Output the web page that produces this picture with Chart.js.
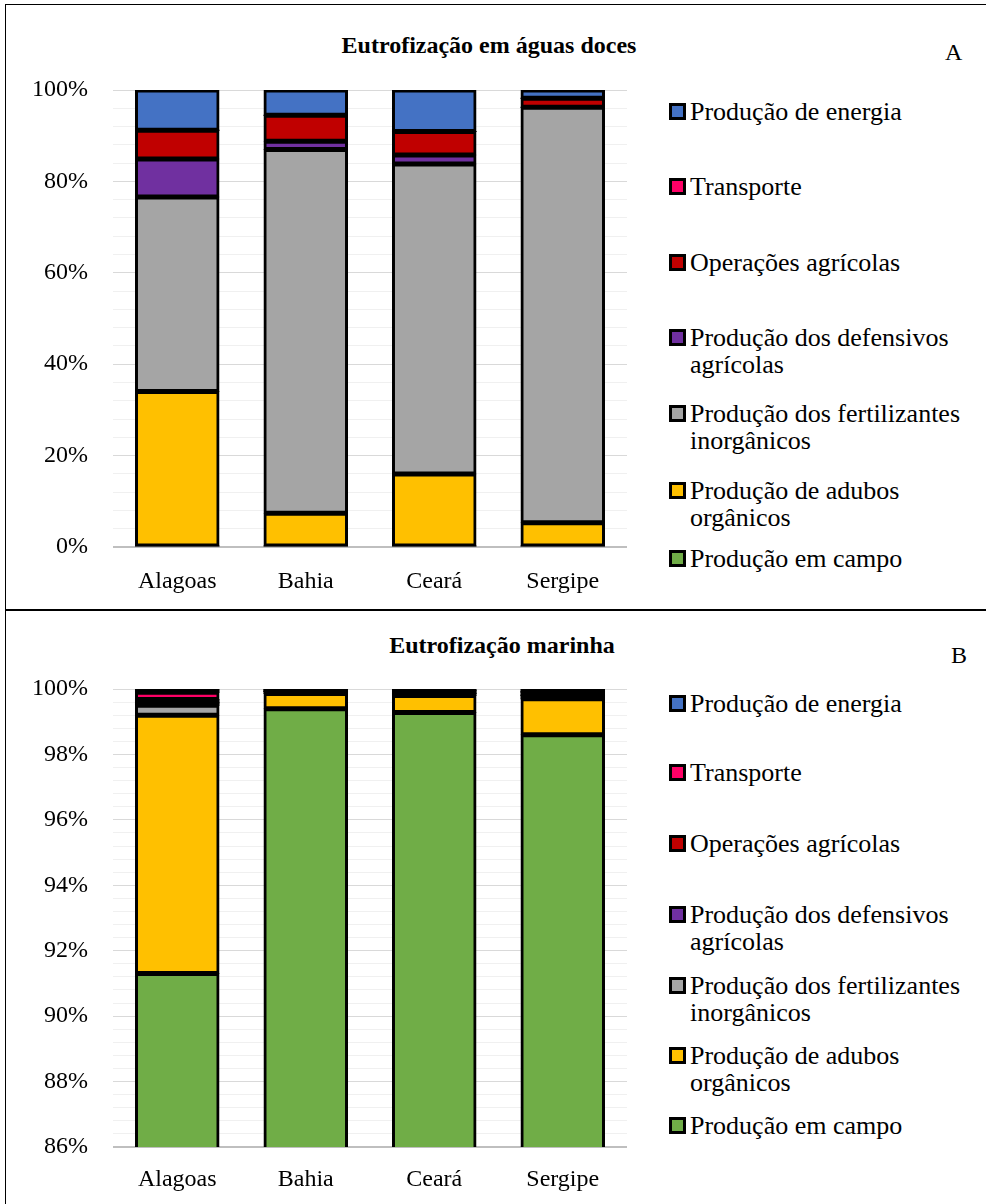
<!DOCTYPE html>
<html lang="pt">
<head>
<meta charset="utf-8">
<script src="https://cdn.jsdelivr.net/npm/chart.js@4.4.1/dist/chart.umd.min.js"></script>
<style>
  body { margin: 0; background: #fff; }
  #page { position: relative; width: 986px; height: 1204px; overflow: hidden; font-family: "Liberation Serif", "Times New Roman", serif; color: #000; }
  .frame { position: absolute; left: 5px; top: 4px; width: 1100px; height: 1300px; border-left: 1px solid #000; border-top: 1px solid #000; }
  .divider { position: absolute; left: 5px; top: 609px; width: 1100px; border-top: 2px solid #000; }
  .panel { position: absolute; left: 0; width: 986px; }
  .chartBox { position: absolute; left: 0; top: 0; width: 640px; }
  .title { position: absolute; font-weight: bold; font-size: 24px; line-height: 28px; transform: translateX(-50%); white-space: nowrap; }
  .letter { position: absolute; font-size: 24px; line-height: 28px; }
  .item { position: absolute; left: 669px; width: 317px; display: flex; align-items: flex-start; font-size: 26px; line-height: 27px; }
  .swatch { flex: none; width: 11px; height: 11px; border: 3px solid #000; margin: 5px 4px 0 0; }
</style>
</head>
<body>
<div id="page">
  <div class="frame"></div>
  <div class="divider"></div>

  <div class="panel" id="panelA" style="top:0;height:608px">
    <div class="title" style="left:489px;top:31px">Eutrofização em águas doces</div>
    <div class="letter" style="left:945px;top:38px">A</div>
    <div class="chartBox" style="height:608px"><canvas id="chartA"></canvas></div>
  </div>

  <div class="panel" id="panelB" style="top:608px;height:596px">
    <div class="title" style="left:502px;top:23px">Eutrofização marinha</div>
    <div class="letter" style="left:951px;top:33px">B</div>
    <div class="chartBox" style="height:596px"><canvas id="chartB"></canvas></div>
  </div>
</div>

<script>
// categories and series (bottom of the stack first)
const states = ['Alagoas', 'Bahia', 'Ceará', 'Sergipe'];
const seriesNames = [
  'Produção em campo',
  'Produção de adubos orgânicos',
  'Produção dos fertilizantes inorgânicos',
  'Produção dos defensivos agrícolas',
  'Operações agrícolas',
  'Transporte',
  'Produção de energia'
];
const seriesColors = ['#70AD47', '#FFC000', '#A5A5A5', '#7030A0', '#C00000', '#FF0066', '#4472C4'];

// A - freshwater eutrophication (%)
const campoA      = [0.2, 0.2, 0.2, 0.2];
const adubosA     = [33.8, 7.2, 15.8, 5.1];
const fertA       = [42.6, 79.6, 67.8, 90.9];
const defensivosA = [8.3, 1.8, 2.0, 0];
const operacoesA  = [6.3, 5.7, 5.1, 2.0];
const transporteA = [0, 0, 0, 0];
const energiaA    = [8.8, 5.5, 9.1, 1.8];

// B - marine eutrophication (%)
const campoB      = [91.3, 99.4, 99.28, 98.6];
const adubosB     = [7.9, 0.46, 0.52, 1.1];
const fertB       = [0.3, 0.06, 0.06, 0.1];
const defensivosB = [0.08, 0, 0.02, 0.02];
const operacoesB  = [0.1, 0.04, 0.06, 0.08];
const transporteB = [0.22, 0.02, 0.02, 0.02];
const energiaB    = [0.1, 0.02, 0.04, 0.08];

// y axis: [min, max, gridline step, labelled step]
const axisA = [0, 100, 4, 20];
const axisB = [86, 100, 0.4, 2];

// legend rows, top offset of first line inside each panel (top to bottom)
const legendTopsA = [98, 173, 249, 324, 400, 477, 545];
const legendTopsB = [82, 151, 222, 293, 364, 434, 504];

const font = { family: '"Liberation Serif", "Times New Roman", serif', size: 24 };
const BORDER = 3;

function isMultiple(v, step) {
  const r = v / step;
  return Math.abs(r - Math.round(r)) < 1e-6;
}

function buildLegend(panelId, tops) {
  const panel = document.getElementById(panelId);
  for (let k = 0; k < seriesNames.length; k++) {
    const i = seriesNames.length - 1 - k;
    const row = document.createElement('div');
    row.className = 'item';
    row.style.top = tops[k] + 'px';
    const sw = document.createElement('span');
    sw.className = 'swatch';
    sw.style.background = seriesColors[i];
    const tx = document.createElement('span');
    tx.textContent = seriesNames[i];
    row.appendChild(sw);
    row.appendChild(tx);
    panel.appendChild(row);
  }
}

// a segment thinner than its two borders is swallowed by the outline in the original
function isThin(c) {
  const y = c.chart.scales.y;
  if (!y || typeof c.raw !== 'number') return false;
  return Math.abs(y.getPixelForValue(0) - y.getPixelForValue(c.raw)) < 2 * BORDER;
}

function makeChart(id, series, axis, padTop, xHeight, xPad) {
  const [yMin, yMax, step, major] = axis;
  new Chart(document.getElementById(id), {
    type: 'bar',
    data: {
      labels: states,
      datasets: series.map((data, i) => ({
        label: seriesNames[i],
        data: data,
        backgroundColor: c => (isThin(c) ? '#000' : seriesColors[i]),
        borderColor: '#000',
        borderWidth: c => (isThin(c) ? 0 : BORDER),
        borderSkipped: false,
        inflateAmount: 0.5,   // overlap neighbours so no light seam shows
        categoryPercentage: 1,
        barPercentage: 0.65
      }))
    },
    options: {
      responsive: true,
      maintainAspectRatio: false,
      animation: false,
      layout: { padding: { top: padTop, right: 13, bottom: 0, left: 0 } },
      plugins: { legend: { display: false }, tooltip: { enabled: false } },
      scales: {
        x: {
          stacked: true,
          grid: { display: false },
          border: { display: false },
          ticks: { color: '#000', font: font, padding: xPad },
          afterFit: s => { s.height = xHeight; }
        },
        y: {
          stacked: true,
          min: yMin,
          max: yMax,
          border: { display: false },
          grid: {
            drawTicks: false,
            color: c => {
              const v = c.tick ? c.tick.value : yMin;
              if (Math.abs(v - yMin) < 1e-6) return '#bfbfbf';
              return isMultiple(v, major) ? '#d9d9d9' : '#f0f0f0';
            },
            lineWidth: c => (c.tick && Math.abs(c.tick.value - yMin) < 1e-6 ? 2 : 1)
          },
          ticks: {
            stepSize: step,
            autoSkip: false,
            color: '#000',
            font: font,
            padding: 25,
            callback: v => (isMultiple(v, major) ? Math.round(v) + '%' : '')
          },
          afterFit: s => { s.width = 113; }
        }
      }
    }
  });
}

buildLegend('panelA', legendTopsA);
buildLegend('panelB', legendTopsB);

makeChart('chartA', [campoA, adubosA, fertA, defensivosA, operacoesA, transporteA, energiaA], axisA, 90, 61, 12);
makeChart('chartB', [campoB, adubosB, fertB, defensivosB, operacoesB, transporteB, energiaB], axisB, 81, 57, 10);
</script>
</body>
</html>
